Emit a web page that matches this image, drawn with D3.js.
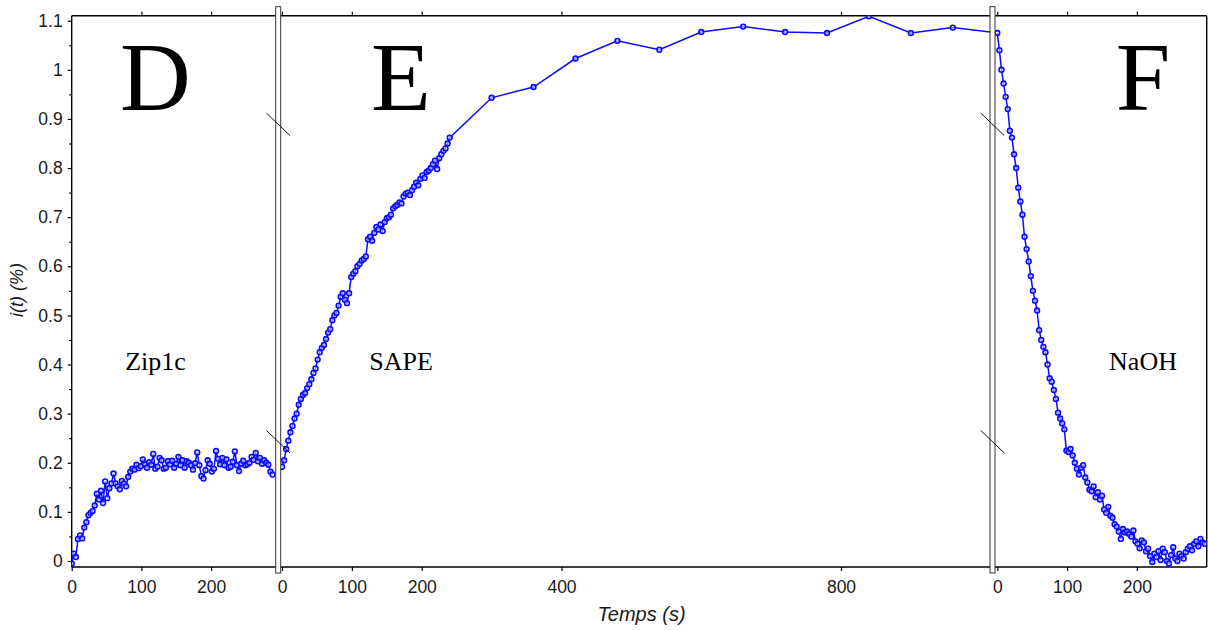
<!DOCTYPE html>
<html><head><meta charset="utf-8">
<script src="https://cdn.jsdelivr.net/npm/d3@7/dist/d3.min.js"></script>
<style>
html,body{margin:0;padding:0;background:#fff;}
svg{display:block;}
</style></head>
<body>
<svg id="chart" width="1208" height="630"></svg>
<script>
// ---------- DATA ----------
const stepD = 3;   // seconds between samples, panel D (Zip1c)
const valuesD = [-0.005,0.015,0.008,0.045,0.052,0.046,0.068,0.079,0.093,0.098,0.102,0.113,0.137,0.125,0.143,0.118,0.162,0.128,0.148,0.158,
0.178,0.158,0.152,0.146,0.163,0.158,0.152,0.171,0.182,0.188,0.186,0.196,0.189,0.193,0.207,0.197,0.19,0.201,0.196,0.218,
0.188,0.192,0.21,0.205,0.188,0.19,0.203,0.197,0.204,0.19,0.198,0.212,0.195,0.205,0.19,0.203,0.2,0.195,0.186,0.199,
0.221,0.195,0.173,0.168,0.185,0.205,0.198,0.182,0.188,0.224,0.208,0.197,0.21,0.195,0.207,0.19,0.192,0.202,0.223,0.195,
0.183,0.198,0.204,0.195,0.197,0.2,0.212,0.206,0.22,0.203,0.21,0.198,0.205,0.2,0.196,0.182,0.176];

const stepE = 3;   // dense part of panel E (SAPE)
const valuesE = [0.192,0.205,0.228,0.245,0.262,0.275,0.29,0.3,0.318,0.33,0.338,0.342,0.352,0.36,0.37,0.383,0.392,0.41,0.425,0.434,
0.44,0.452,0.465,0.472,0.49,0.5,0.505,0.52,0.538,0.545,0.532,0.525,0.545,0.578,0.585,0.59,0.6,0.605,0.612,0.615,
0.62,0.655,0.66,0.652,0.668,0.68,0.675,0.685,0.672,0.69,0.698,0.7,0.705,0.718,0.722,0.725,0.73,0.728,0.742,0.748,
0.75,0.745,0.755,0.762,0.77,0.765,0.778,0.785,0.78,0.792,0.795,0.8,0.808,0.815,0.798,0.82,0.828,0.835,0.84,0.85,0.862];
const timesE2 = [300,360,420,480,540,600,660,720,780,840,900,960,1020];
const valuesE2 = [0.943,0.965,1.023,1.059,1.041,1.077,1.088,1.077,1.075,1.109,1.075,1.086,1.076];

const stepF = 3;   // panel F (NaOH)
const valuesF = [1.075,1.04,1.0,0.972,0.945,0.92,0.876,0.862,0.828,0.8,0.76,0.732,0.705,0.66,0.635,0.61,0.58,0.55,0.53,0.51,
0.47,0.45,0.436,0.425,0.4,0.372,0.365,0.348,0.33,0.302,0.29,0.28,0.268,0.225,0.222,0.228,0.215,0.2,0.188,0.176,
0.19,0.195,0.17,0.16,0.145,0.142,0.152,0.13,0.14,0.125,0.133,0.105,0.098,0.11,0.092,0.088,0.075,0.07,0.06,0.045,
0.065,0.058,0.06,0.055,0.05,0.062,0.04,0.035,0.026,0.042,0.038,0.02,0.025,0.01,-0.002,0.015,0.008,0.02,0.002,0.025,
0.018,0.0,-0.005,0.012,0.028,0.005,0.0,0.015,0.01,0.005,0.018,0.025,0.03,0.022,0.035,0.04,0.03,0.045,0.038,0.035];

const yTicks = [0,0.1,0.2,0.3,0.4,0.5,0.6,0.7,0.8,0.9,1,1.1];
const yMinor = [0.05,0.15,0.25,0.35,0.45,0.55,0.65,0.75,0.85,0.95,1.05];
const ticksD = [0,100,200];
const ticksE = [0,100,200,400,800];
const ticksF = [0,100,200];
const panelLetters = ["D","E","F"];
const panelNames = ["Zip1c","SAPE","NaOH"];

// ---------- LAYOUT ----------
const svg = d3.select("#chart");
const pTop = 15.7, pBottom = 567, pLeft = 71.7, pRight = 1206.7;
const y = d3.scaleLinear().domain([0,1.1]).range([561,20.7]);
const xD = d3.scaleLinear().domain([0,292.6]).range([71.7,275.7]);
const xE = d3.scaleLinear().domain([0,800]).range([282,841]);
const xF = d3.scaleLinear().domain([0,300]).range([997.3,1206.7]);
const bars = [[275.7,280.7],[990,995]];
const panels = [
  {x:xD, x0:pLeft, x1:bars[0][0], ticks:ticksD, topTicks:[100,200],
   data: valuesD.map((v,i)=>({t:i*stepD,v}))},
  {x:xE, x0:bars[0][1], x1:bars[1][0], ticks:ticksE, topTicks:ticksE,
   data: valuesE.map((v,i)=>({t:i*stepE,v})).concat(timesE2.map((t,i)=>({t,v:valuesE2[i]})))},
  {x:xF, x0:bars[1][1], x1:pRight, ticks:ticksF, topTicks:ticksF,
   data: valuesF.map((v,i)=>({t:i*stepF,v}))}
];
const blue = "#0a0aff";
const fontSans = "'Liberation Sans', Arial, sans-serif";
const fontSerif = "'Liberation Serif', 'Times New Roman', serif";
const letterX = [155.5, 401, 1143];

const defs = svg.append("defs");
panels.forEach((p,i)=>{
  defs.append("clipPath").attr("id","clip"+i).append("rect")
    .attr("x",p.x0).attr("y",pTop).attr("width",p.x1-p.x0).attr("height",pBottom-pTop);
});

// axes ticks
panels.forEach((p,i)=>{
  const ax = svg.append("g").attr("transform",`translate(0,${pBottom})`)
    .call(d3.axisBottom(p.x).tickValues(p.ticks).tickSize(4).tickPadding(6).tickFormat(d3.format("d")));
  ax.select(".domain").remove();
  ax.selectAll("line").attr("stroke","#000").attr("stroke-width",1.2);
  ax.selectAll("text").attr("font-family",fontSans).attr("font-size",17.5).attr("fill","#1a1a1a").attr("dy","0.9em");
  const at = svg.append("g").attr("transform",`translate(0,${pTop})`)
    .call(d3.axisTop(p.x).tickValues(p.topTicks).tickSize(4).tickFormat(""));
  at.select(".domain").remove();
  at.selectAll("line").attr("stroke","#000").attr("stroke-width",1.2);
});

const ay = svg.append("g").attr("transform",`translate(${pLeft},0)`)
  .call(d3.axisLeft(y).tickValues(yTicks).tickSize(4).tickPadding(5).tickFormat(d=>String(+d.toFixed(1))));
ay.select(".domain").remove();
ay.selectAll("line").attr("stroke","#000").attr("stroke-width",1.2);
ay.selectAll("text").attr("font-family",fontSans).attr("font-size",17.5).attr("fill","#1a1a1a");
const aym = svg.append("g").attr("transform",`translate(${pLeft},0)`)
  .call(d3.axisLeft(y).tickValues(yMinor).tickSize(2.5).tickFormat(""));
aym.select(".domain").remove();
aym.selectAll("line").attr("stroke","#000").attr("stroke-width",1.2);

// frame
const frame = svg.append("g").attr("stroke","#000").attr("stroke-width",1.4).attr("fill","none");
frame.append("line").attr("x1",pLeft).attr("x2",pRight).attr("y1",pTop).attr("y2",pTop);
frame.append("line").attr("x1",pLeft).attr("x2",pRight).attr("y1",pBottom).attr("y2",pBottom);
frame.append("line").attr("x1",pLeft).attr("x2",pLeft).attr("y1",pTop).attr("y2",pBottom);
frame.append("line").attr("x1",pRight).attr("x2",pRight).attr("y1",pTop).attr("y2",pBottom);

// data
panels.forEach((p,i)=>{
  const g = svg.append("g").attr("clip-path",`url(#clip${i})`);
  g.append("path").datum(p.data)
    .attr("d", d3.line().x(d=>p.x(d.t)).y(d=>y(d.v)))
    .attr("fill","none").attr("stroke",blue).attr("stroke-width",1.5);
  g.selectAll("circle").data(p.data).enter().append("circle")
    .attr("cx",d=>p.x(d.t)).attr("cy",d=>y(d.v)).attr("r",2.4)
    .attr("fill","#fff").attr("fill-opacity",0.5).attr("stroke",blue).attr("stroke-width",1.6);
});

// break bars
bars.forEach(b=>{
  svg.append("rect").attr("x",b[0]).attr("y",6.7).attr("width",b[1]-b[0]).attr("height",573-6.7)
    .attr("fill","#fff").attr("stroke","#333").attr("stroke-width",1);
  const cx = (b[0]+b[1])/2;
  [124.3, 441.7].forEach(cy=>{
    svg.append("line").attr("x1",cx-11.8).attr("y1",cy-11.3).attr("x2",cx+11.8).attr("y2",cy+11.3)
      .attr("stroke","#111").attr("stroke-width",1);
  });
});

// letters and labels
panelLetters.forEach((L,i)=>{
  svg.append("text").attr("x",letterX[i]).attr("y",110).attr("text-anchor","middle")
    .attr("font-family",fontSerif).attr("font-size",98).attr("fill","#000").text(L);
  svg.append("text").attr("x",letterX[i]).attr("y",370).attr("text-anchor","middle")
    .attr("font-family",fontSerif).attr("font-size",26).attr("fill","#000").text(panelNames[i]);
});

// axis titles
svg.append("text").attr("x",641.5).attr("y",621).attr("text-anchor","middle")
  .attr("font-family",fontSans).attr("font-style","italic").attr("font-size",20).attr("fill","#1a1a1a").text("Temps (s)");
svg.append("text").attr("transform","translate(23,290) rotate(-90)").attr("text-anchor","middle")
  .attr("font-family",fontSans).attr("font-style","italic").attr("font-size",18).attr("fill","#1a1a1a").text("i(t) (%)");
</script>
</body></html>
